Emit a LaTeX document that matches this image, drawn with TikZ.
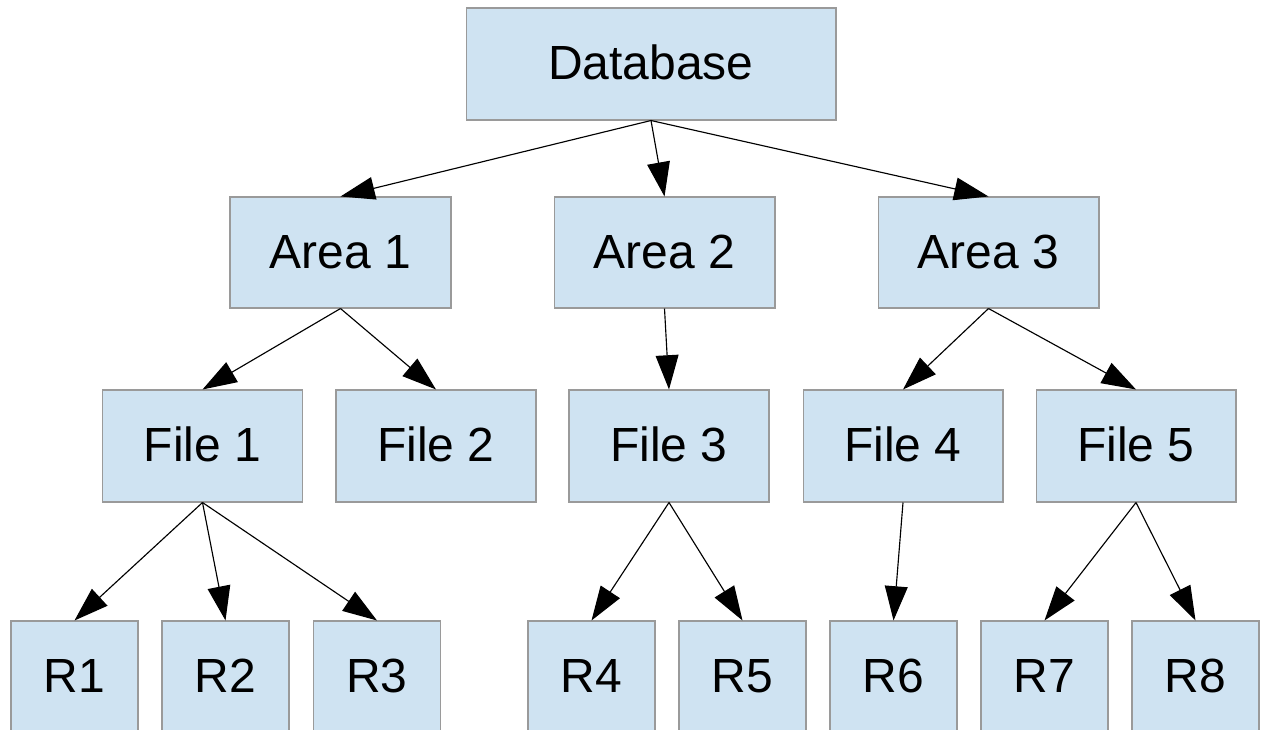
\documentclass[tikz,border=0pt]{standalone}
\usepackage{fontspec}
\setmainfont{Liberation Sans}
\usetikzlibrary{arrows.meta}
\definecolor{boxfill}{HTML}{CFE3F2}
\definecolor{boxline}{HTML}{9A9A9A}
\tikzset{
  px/.style={x=0.02cm, y=-0.02cm},
  treebox/.style={draw=boxline, line width=0.6pt, fill=boxfill, inner sep=0pt,
    font=\fontsize{27.3}{31}\selectfont, text height=19.2pt, text depth=1.2pt},
  rootbox/.style={treebox, minimum width=7.4cm, minimum height=2.24cm},
  areabox/.style={treebox, minimum width=4.42cm, minimum height=2.22cm},
  filebox/.style={treebox, minimum width=4.0cm, minimum height=2.24cm},
  recbox/.style={treebox, minimum width=2.54cm, minimum height=2.24cm},
  link/.style={line width=0.65pt, -{Triangle[length=19.5pt, width=13pt]}}
}
\begin{document}
\begin{tikzpicture}[px]
  \useasboundingbox (0,0) rectangle (1261,730);
  \clip (0,0) rectangle (1261,730);
  \fill[white] (0,0) rectangle (1261,730);

  % root
  \node[rootbox] (db) at (651,64) {Database};

  % areas
  \node[areabox] (a1) at (340.5,252.5) {Area 1};
  \node[areabox] (a2) at (664.5,252.5) {Area 2};
  \node[areabox] (a3) at (988.5,252.5) {Area 3};

  % files
  \node[filebox] (f1) at (202.5,446) {File 1};
  \node[filebox] (f2) at (436,446) {File 2};
  \node[filebox] (f3) at (669,446) {File 3};
  \node[filebox] (f4) at (903,446) {File 4};
  \node[filebox] (f5) at (1136,446) {File 5};

  % records
  \node[recbox] (r1) at (74.5,677) {R1};
  \node[recbox] (r2) at (225.5,677) {R2};
  \node[recbox] (r3) at (377,677) {R3};
  \node[recbox] (r4) at (591.5,677) {R4};
  \node[recbox] (r5) at (742.5,677) {R5};
  \node[recbox] (r6) at (893.5,677) {R6};
  \node[recbox] (r7) at (1044.5,677) {R7};
  \node[recbox] (r8) at (1195.5,677) {R8};

  % connectors
  \draw[link] (db.south) -- (a1.north);
  \draw[link] (db.south) -- (a2.north);
  \draw[link] (db.south) -- (a3.north);
  \draw[link] (a1.south) -- (f1.north);
  \draw[link] (a1.south) -- (f2.north);
  \draw[link] (a2.south) -- (f3.north);
  \draw[link] (a3.south) -- (f4.north);
  \draw[link] (a3.south) -- (f5.north);
  \draw[link] (f1.south) -- (r1.north);
  \draw[link] (f1.south) -- (r2.north);
  \draw[link] (f1.south) -- (r3.north);
  \draw[link] (f3.south) -- (r4.north);
  \draw[link] (f3.south) -- (r5.north);
  \draw[link] (f4.south) -- (r6.north);
  \draw[link] (f5.south) -- (r7.north);
  \draw[link] (f5.south) -- (r8.north);
\end{tikzpicture}
\end{document}
